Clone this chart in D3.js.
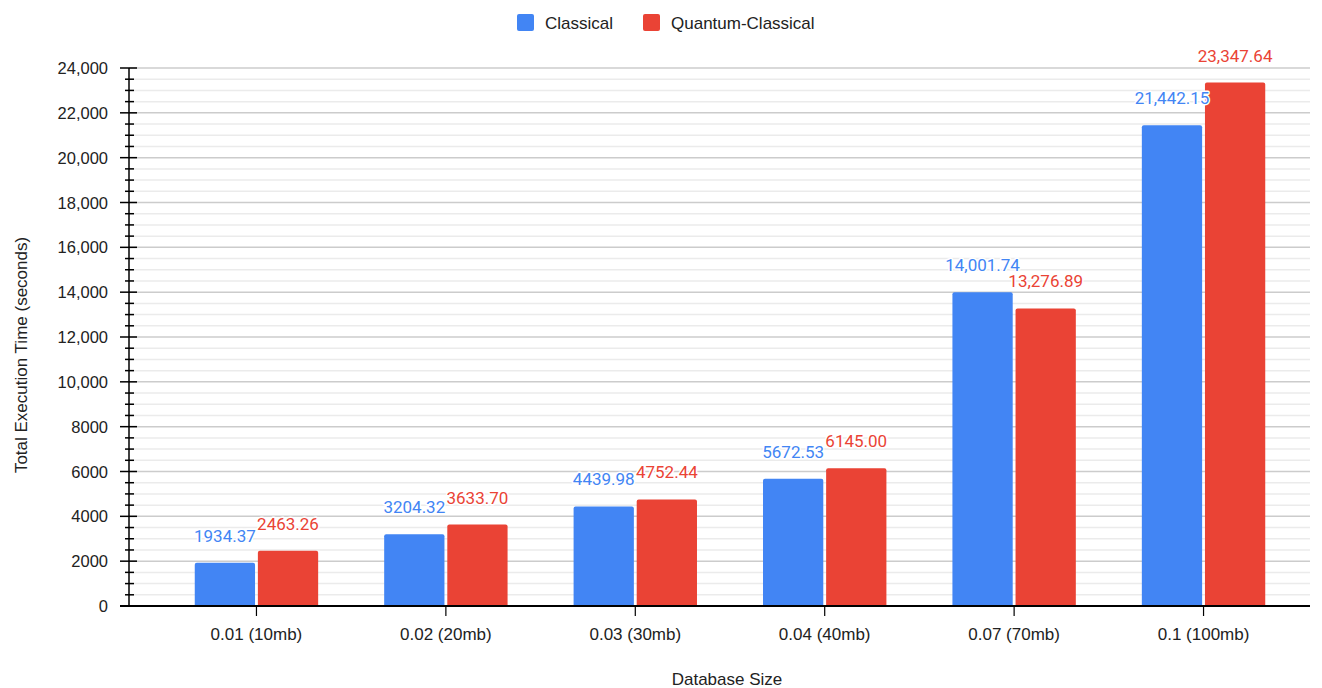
<!DOCTYPE html>
<html lang="en">

<head>
    <meta charset="UTF-8">
    <title>Total Execution Time by Database Size</title>
    <script src="https://d3js.org/d3.v7.min.js"></script>
    <style>
        body { margin: 0; background: #fff; }
        text { font-family: Arial, "Liberation Sans", sans-serif; }
    </style>
</head>

<body>
    <script>
        var categories = ["0.01 (10mb)", "0.02 (20mb)", "0.03 (30mb)", "0.04 (40mb)", "0.07 (70mb)", "0.1 (100mb)"];
        var seriesNames = ["Classical", "Quantum-Classical"];
        var classical = [1934.37, 3204.32, 4439.98, 5672.53, 14001.74, 21442.15];
        var quantumClassical = [2463.26, 3633.70, 4752.44, 6145.00, 13276.89, 23347.64];
        var majorTicks = [0, 2000, 4000, 6000, 8000, 10000, 12000, 14000, 16000, 18000, 20000, 22000, 24000];
        var colors = ["#4285f4", "#ea4335"];

        var width = 1322, height = 688;

        var svg = d3.select("body")
            .append("svg")
            .attr("width", width)
            .attr("height", height);

        var x = d3.scaleBand()
            .domain(categories)
            .range([161.75, 1298.25])
            .padding(0);

        var inner = d3.scaleBand()
            .domain(seriesNames)
            .range([-61.7, 61.7])
            .paddingInner(0.045);

        var y = d3.scaleLinear()
            .domain([0, 24000])
            .range([606, 68]);

        var minorTicks = d3.range(0, 24001, 500).filter(function (d) { return d % 2000 !== 0; });

        // gridlines
        svg.append("g").selectAll("line")
            .data(minorTicks)
            .join("line")
            .attr("x1", 129).attr("x2", 1310)
            .attr("y1", d => y(d)).attr("y2", d => y(d))
            .attr("stroke", "#ebebeb")
            .attr("stroke-width", 1.5);

        svg.append("g").selectAll("line")
            .data(majorTicks.slice(1))
            .join("line")
            .attr("x1", 129).attr("x2", 1310)
            .attr("y1", d => y(d)).attr("y2", d => y(d))
            .attr("stroke", "#cccccc")
            .attr("stroke-width", 1.5);

        // bars
        var data = categories.map(function (c, i) {
            return [
                { cat: c, s: seriesNames[0], v: classical[i], color: colors[0] },
                { cat: c, s: seriesNames[1], v: quantumClassical[i], color: colors[1] }
            ];
        });

        function barPath(x0, w, top, bottom, r) {
            return "M" + x0 + "," + bottom +
                "V" + (top + r) +
                "Q" + x0 + "," + top + " " + (x0 + r) + "," + top +
                "H" + (x0 + w - r) +
                "Q" + (x0 + w) + "," + top + " " + (x0 + w) + "," + (top + r) +
                "V" + bottom + "Z";
        }

        var groups = svg.append("g").selectAll("g")
            .data(data)
            .join("g")
            .attr("transform", d => "translate(" + (x(d[0].cat) + x.bandwidth() / 2) + ",0)");

        groups.selectAll("path")
            .data(d => d)
            .join("path")
            .attr("d", d => barPath(inner(d.s), inner.bandwidth(), y(d.v), y(0), 2))
            .attr("fill", d => d.color);

        var fmtBig = d3.format(",.2f"), fmtSmall = d3.format(".2f");

        groups.selectAll("text")
            .data(d => d)
            .join("text")
            .attr("x", d => inner(d.s) + inner.bandwidth() / 2)
            .attr("y", d => y(d.v) - 21)
            .attr("text-anchor", "middle")
            .style("font-family", "Roboto, sans-serif")
            .style("font-size", "17px")
            .attr("fill", d => d.color)
            .attr("stroke", "#fff")
            .attr("stroke-width", 3)
            .attr("stroke-linejoin", "round")
            .attr("paint-order", "stroke")
            .text(d => d.v >= 10000 ? fmtBig(d.v) : fmtSmall(d.v));

        // y axis
        var yAxis = svg.append("g");
        yAxis.append("line")
            .attr("x1", 129).attr("x2", 129)
            .attr("y1", y(24000)).attr("y2", y(0))
            .attr("stroke", "#000").attr("stroke-width", 1.5);

        yAxis.selectAll("line.minor")
            .data(minorTicks)
            .join("line")
            .attr("class", "minor")
            .attr("x1", 125).attr("x2", 134)
            .attr("y1", d => y(d)).attr("y2", d => y(d))
            .attr("stroke", "#000").attr("stroke-width", 1.5);

        yAxis.selectAll("line.major")
            .data(majorTicks)
            .join("line")
            .attr("class", "major")
            .attr("x1", 120).attr("x2", 137)
            .attr("y1", d => y(d)).attr("y2", d => y(d))
            .attr("stroke", "#000").attr("stroke-width", 1.5);

        yAxis.selectAll("text")
            .data(majorTicks)
            .join("text")
            .attr("x", 108)
            .attr("y", d => y(d) + 6)
            .attr("text-anchor", "end")
            .style("font-size", "16.5px")
            .attr("fill", "#222")
            .text(d => d >= 10000 ? d3.format(",")(d) : d);

        // x axis
        var xAxis = svg.append("g");
        xAxis.append("line")
            .attr("x1", 120).attr("x2", 1310)
            .attr("y1", y(0)).attr("y2", y(0))
            .attr("stroke", "#000").attr("stroke-width", 2);

        xAxis.selectAll("line.tick")
            .data(categories)
            .join("line")
            .attr("class", "tick")
            .attr("x1", d => x(d) + x.bandwidth() / 2).attr("x2", d => x(d) + x.bandwidth() / 2)
            .attr("y1", y(0)).attr("y2", y(0) + 10)
            .attr("stroke", "#000").attr("stroke-width", 1.2);

        xAxis.selectAll("text")
            .data(categories)
            .join("text")
            .attr("x", d => x(d) + x.bandwidth() / 2)
            .attr("y", 640)
            .attr("text-anchor", "middle")
            .style("font-size", "17px")
            .attr("fill", "#222")
            .text(d => d);

        // axis titles
        svg.append("text")
            .attr("x", 727)
            .attr("y", 685)
            .attr("text-anchor", "middle")
            .style("font-size", "17px")
            .attr("fill", "#222")
            .text("Database Size");

        svg.append("text")
            .attr("transform", "translate(27,355) rotate(-90)")
            .attr("text-anchor", "middle")
            .style("font-size", "17px")
            .attr("fill", "#222")
            .text("Total Execution Time (seconds)");

        // legend
        var legendX = [517, 643];
        var legend = svg.append("g").selectAll("g")
            .data(seriesNames)
            .join("g")
            .attr("transform", (d, i) => "translate(" + legendX[i] + ",14)");

        legend.append("rect")
            .attr("width", 17).attr("height", 17)
            .attr("rx", 2)
            .attr("fill", (d, i) => colors[i]);

        legend.append("text")
            .attr("x", 28)
            .attr("y", 15)
            .style("font-size", "17px")
            .attr("fill", "#222")
            .text(d => d);
    </script>
</body>

</html>
